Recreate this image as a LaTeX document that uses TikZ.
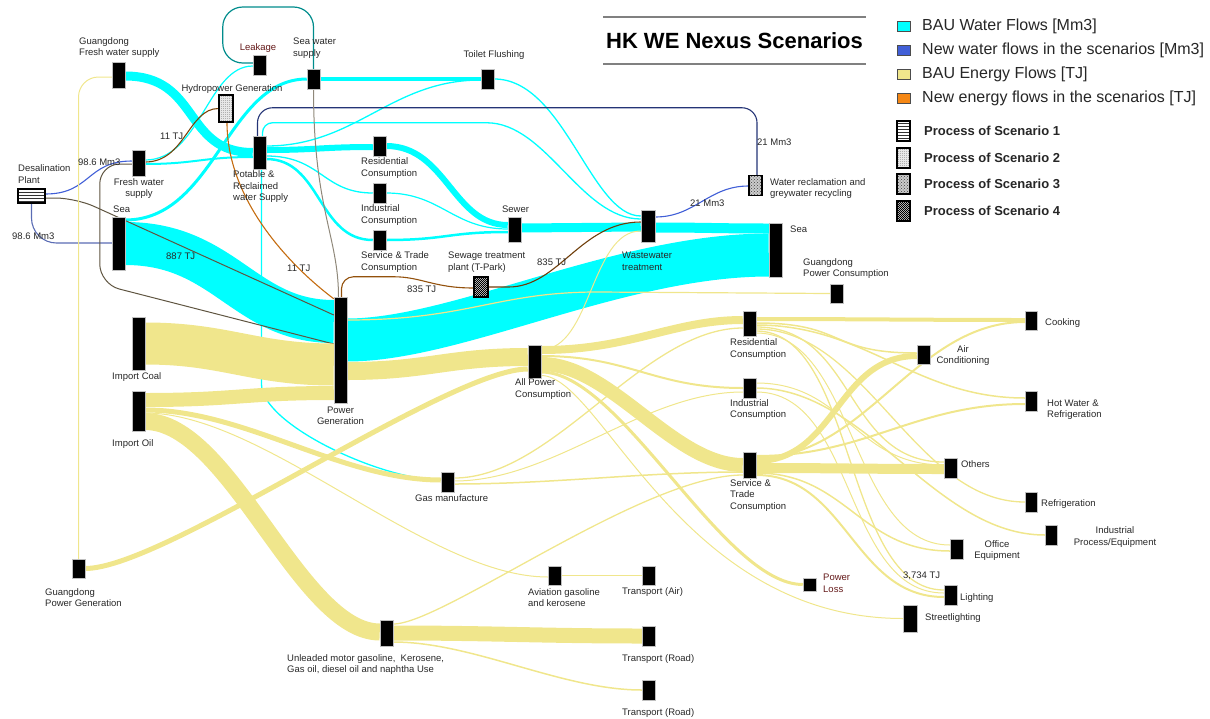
\documentclass[tikz,border=0pt]{standalone}
\usepackage{fontspec}
\setmainfont{Liberation Sans}
\usetikzlibrary{patterns,backgrounds}
\definecolor{watercol}{RGB}{0,255,255}
\definecolor{energycol}{RGB}{240,230,140}
\definecolor{newwater}{RGB}{65,95,215}
\definecolor{newenergy}{RGB}{245,135,20}
\definecolor{darkline}{RGB}{95,85,65}
\definecolor{lblcol}{RGB}{40,40,40}
\definecolor{lblred}{RGB}{100,25,25}
\pgfdeclarepatternformonly{finedots}{\pgfpointorigin}{\pgfqpoint{1.6pt}{1.6pt}}{\pgfqpoint{1.6pt}{1.6pt}}{\pgfpathcircle{\pgfqpoint{0.4pt}{0.4pt}}{0.45pt}\pgfusepath{fill}}
\pgfdeclarepatternformonly{finechecker}{\pgfpointorigin}{\pgfqpoint{2.4pt}{2.4pt}}{\pgfqpoint{2.4pt}{2.4pt}}{\pgfpathrectangle{\pgfpointorigin}{\pgfqpoint{1.2pt}{1.2pt}}\pgfpathrectangle{\pgfqpoint{1.2pt}{1.2pt}}{\pgfqpoint{1.2pt}{1.2pt}}\pgfusepath{fill}}
\begin{document}
\begin{tikzpicture}[x=1pt, y=-1pt,
  proc/.style={fill=black, draw=gray!50, line width=.5pt, inner sep=0, minimum width=13, minimum height=20},
  scen/.style={draw=black, line width=1.1pt, inner sep=0, minimum width=14, minimum height=20, preaction={fill=#1}}, scen/.default=white,
  lbl/.style={font=\fontsize{9.5}{11.5}\selectfont, text=lblcol, inner sep=0, align=left},
  legbox/.style={draw=black!70, line width=.8pt, inner sep=0, minimum width=13, minimum height=10},
  legtxt/.style={anchor=west, inner sep=0, font=\fontsize{16}{18}\selectfont, text=black!85},
  sctxt/.style={anchor=west, inner sep=0, font=\bfseries\fontsize{13}{15}\selectfont, text=black!85},
  wflow/.style={draw=watercol, line width=#1}, wflow/.default=1.2,
  eflow/.style={draw=energycol, line width=#1}, eflow/.default=1.2,
  nwflow/.style={draw=newwater, line width=1.1},
  neflow/.style={draw=newenergy, line width=1.1},
  dflow/.style={draw=darkline, line width=1}]
\useasboundingbox (0,0) rectangle (1210,718);
\node[proc, minimum height=26] (gdfresh) at (118.5,75){};
\node[proc] (leak) at (259.5,65){};
\node[proc] (seasup) at (313.5,79){};
\node[proc] (toilet) at (487.5,79){};
\node[scen=gray!18, minimum height=27, pattern=finedots, pattern color=black!60] (hydro) at (226,108.5){};
\node[proc, minimum height=26] (fresh) at (138.5,163){};
\node[proc, minimum height=33] (potable) at (259.5,152.5){};
\node[proc] (wres) at (379.5,146){};
\node[proc] (wind) at (379.5,193){};
\node[proc] (wser) at (379.5,240){};
\node[proc, minimum height=25] (sewer) at (514.5,229.5){};
\node[scen=gray!40, pattern=finechecker] (stp) at (481,287){};
\node[proc, minimum width=14, minimum height=32] (wwt) at (648,226){};
\node[scen=gray!40, minimum width=13, pattern=crosshatch dots, pattern color=black!75] (wrec) at (755.5,185.5){};
\node[proc, minimum height=54] (seart) at (775.5,250){};
\node[scen, minimum width=27, minimum height=14, pattern=horizontal lines, pattern color=black!80] (desal) at (31.5,196){};
\node[proc, minimum height=53] (sealft) at (118.5,243.5){};
\node[proc, minimum height=106] (pg) at (340.5,350){};
\node[proc, minimum height=53] (coal) at (138.5,343.5){};
\node[proc, minimum height=40] (oil) at (138.5,411){};
\node[proc, minimum height=19] (gdpg) at (78.5,568.5){};
\node[proc, minimum height=19] (gdpc) at (836.5,293.5){};
\node[proc, minimum height=33] (allpc) at (534.5,361.5){};
\node[proc] (gas) at (447.5,482){};
\node[proc, minimum height=25] (eres) at (749.5,323.5){};
\node[proc] (eind) at (749.5,388){};
\node[proc, minimum height=26] (eser) at (749.5,465){};
\node[proc, minimum width=12, minimum height=19] (cook) at (1031,320.5){};
\node[proc, minimum height=19] (aircon) at (923.5,354.5){};
\node[proc, minimum width=12] (hotw) at (1031,401){};
\node[proc] (others) at (950.5,468){};
\node[proc, minimum width=12] (refr) at (1031,502){};
\node[proc, minimum width=12] (indproc) at (1051,535){};
\node[proc] (office) at (956.5,549){};
\node[proc, minimum height=13] (ploss) at (809.5,584.5){};
\node[proc] (light) at (950.5,595){};
\node[proc, minimum width=14, minimum height=27] (street) at (910,618.5){};
\node[proc, minimum height=19] (aviat) at (554.5,575.5){};
\node[proc, minimum height=19] (tair) at (648.5,575.5){};
\node[proc, minimum height=26] (unl) at (386.5,633){};
\node[proc] (troad) at (648.5,636){};
\node[proc] (troad2) at (648.5,690){};
\begin{scope}[on background layer]
\draw[wflow=9] ([yshift=-1]gdfresh.east) .. controls +(75,0) and +(-70,0) .. (potable.west);
\draw[wflow=2] ([yshift=-1]fresh.east) .. controls +(50,0) and +(-50,0) .. ([yshift=-4.5]potable.west);
\draw[wflow] ([yshift=3]fresh.east) .. controls +(55,0) and +(-45,0) .. ([yshift=-1]leak.west);
\draw[wflow=3] ([yshift=23.5]sealft.east) .. controls +(90,0) and +(-80,0) .. (seasup.west);
\draw[wflow=43] (sealft.east) .. controls +(100,0) and +(-90,0) .. ([yshift=28.5]pg.west);
\draw[wflow=4] (seasup.east) -- (toilet.west);
\draw[wflow=1.3] ([yshift=6.5]potable.east) .. controls +(90,0) and +(-90,0) .. ([yshift=-1]toilet.west);
\draw[wflow=1.3] (toilet.east) .. controls +(70,0) and +(-50,0) .. ([yshift=10]wwt.west);
\draw[wflow=1.3, rounded corners=10] ([xshift=3]potable.north) |- ++(214,-13) .. controls +(70,0) and +(-60,0) .. ([yshift=7]wwt.west);
\draw[wflow=6] ([yshift=2.5]potable.east) .. controls +(50,0) and +(-50,0) .. ([yshift=-1]wres.west);
\draw[wflow=1.3] ([yshift=-3.5]potable.east) .. controls +(55,0) and +(-50,0) .. (wind.west);
\draw[wflow=2.5] ([yshift=-6.5]potable.east) .. controls +(55,0) and +(-55,0) .. (wser.west);
\draw[wflow=1.3] ([xshift=2]potable.south) -- ++(0,215) .. controls +(0,40) and +(-60,0) .. ([yshift=2]gas.west);
\draw[wflow=6] (wres.east) .. controls +(60,0) and +(-55,0) .. ([yshift=4.5]sewer.west);
\draw[wflow=1.2] (wind.east) .. controls +(55,0) and +(-55,0) .. ([yshift=0.5]sewer.west);
\draw[wflow=2.5] (wser.east) .. controls +(60,0) and +(-60,0) .. ([yshift=-2.5]sewer.west);
\draw[wflow=9] ([yshift=1.5]sewer.east) -- ([yshift=-1]wwt.west);
\draw[wflow=10] ([yshift=-1.5]wwt.east) .. controls +(50,0) and +(-50,0) .. ([yshift=21.5]seart.west);
\draw[wflow=43] ([yshift=10]pg.east) .. controls +(110,0) and +(-150,0) .. ([yshift=-5]seart.west);
\draw[wflow, draw=watercol!55!black, rounded corners=20] ([yshift=2]leak.west) -- ++(-30,0) -- ++(0,-56) -| (seasup.north);
\draw[nwflow, draw=newwater!55!black, rounded corners=15] ([xshift=-2]potable.north) -- ++(0,-28) -| ([xshift=1.5]wrec.north);
\draw[nwflow] ([yshift=-0.5]wrec.west) .. controls +(-40,0) and +(40,0) .. ([yshift=9]wwt.east);
\draw[nwflow] ([yshift=2]desal.east) .. controls +(45,0) and +(-45,0) .. ([yshift=2]fresh.west);
\draw[nwflow, draw=newwater!60!gray, rounded corners=25] ([yshift=0.5]sealft.west) -| (desal.south);
\draw[dflow, rounded corners=20] ([yshift=-2]desal.east) -- ++(30,0) -- ([yshift=35]pg.west);
\draw[dflow, rounded corners=20] ([yshift=-1]fresh.west) -- ++(-32,0) -- ++(0,120) -- ([yshift=6]pg.west);
\draw[neflow, draw=newenergy!80!black] ([xshift=1]hydro.south) .. controls +(0,80) and +(-40,-30) .. ([yshift=-2]pg.north west);
\draw[neflow, draw=newenergy!50!black] ([yshift=1]fresh.east) .. controls +(40,0) and +(-30,0) .. (hydro.west);
\draw[dflow, draw=darkline!70] (seasup.south) .. controls +(0,120) and +(0,-60) .. ([xshift=-2]pg.north);
\draw[neflow, draw=newenergy!60!black, rounded corners=12] ([xshift=1]pg.north) |- ++(40,-20) .. controls +(40,0) and +(-40,0) .. ([yshift=-1]stp.west);
\draw[neflow, draw=newenergy!45!black] (stp.east) -- ++(20,0) .. controls +(50,0) and +(-60,0) .. ([yshift=4]wwt.west);
\draw[eflow=1] ([yshift=12]allpc.east) .. controls +(50,0) and +(-50,0) .. ([yshift=-5]wwt.west);
\draw[eflow=42] (coal.east) .. controls +(80,0) and +(-80,0) .. ([yshift=-14.5]pg.west);
\draw[eflow=14] ([yshift=11]oil.east) .. controls +(90,0) and +(-90,0) .. ([yshift=-43]pg.west);
\draw[eflow=5] ([yshift=1]oil.east) .. controls +(100,0) and +(-100,0) .. ([yshift=2]gas.west);
\draw[eflow=1] ([yshift=-2]oil.east) .. controls +(120,0) and +(-120,0) .. ([yshift=-1.5]aviat.west);
\draw[eflow=17] ([yshift=-10.5]oil.east) .. controls +(85,0) and +(-80,0) .. ([yshift=1]unl.west);
\draw[eflow=5] (gdpg.east) .. controls +(80,0) and +(-80,0) .. ([yshift=-7.5]allpc.west);
\draw[eflow=18] ([yshift=-21]pg.east) .. controls +(80,0) and +(-80,0) .. ([yshift=4.5]allpc.west);
\draw[eflow=1.2] ([yshift=30]pg.east) .. controls +(120,0) and +(-100,0) .. ++(250,-28) -- (gdpc.west);
\draw[eflow=8] ([yshift=11.5]allpc.east) .. controls +(90,0) and +(-70,0) .. ([yshift=3.5]eres.west);
\draw[eflow=2] ([yshift=5.5]allpc.east) .. controls +(90,0) and +(-90,0) .. (eind.west);
\draw[eflow=14] ([yshift=-2.5]allpc.east) .. controls +(70,0) and +(-70,0) .. (eser.west);
\draw[eflow=3] ([yshift=-10.5]allpc.east) .. controls +(80,0) and +(-80,0) .. (ploss.west);
\draw[eflow=1] ([yshift=-14]allpc.east) .. controls +(60,0) and +(-223,0) .. (street.west);
\draw[eflow=1.3] ([yshift=4]gas.east) .. controls +(100,0) and +(-100,0) .. ([yshift=-4.5]eres.west);
\draw[eflow=1] ([yshift=1]gas.east) .. controls +(100,0) and +(-100,0) .. ([yshift=-4]eind.west);
\draw[eflow=1.5] ([yshift=-2]gas.east) .. controls +(100,0) and +(-100,0) .. ([yshift=-7]eser.west);
\draw[eflow=1.3] ([yshift=9]unl.east) .. controls +(50,0) and +(-100,0) .. ([yshift=-10]eser.west);
\draw[eflow=15] (unl.east) .. controls +(100,0) and +(-100,0) .. (troad.west);
\draw[eflow=1.5] ([yshift=-9]unl.east) .. controls +(80,0) and +(-80,0) .. (troad2.west);
\draw[eflow=1] (aviat.east) -- (tair.west);
\draw[eflow=1, rounded corners=20] ([yshift=-2]gdfresh.west) -| (gdpg.north);
\draw[eflow=4] ([yshift=4.5]eres.east) .. controls +(100,0) and +(-100,0) .. ([yshift=0.5]cook.west);
\draw[eflow=1.5] ([yshift=0.5]eres.east) .. controls +(90,0) and +(-90,0) .. ([yshift=1.5]aircon.west);
\draw[eflow=1.5] ([yshift=-1.5]eres.east) .. controls +(110,0) and +(-110,0) .. ([yshift=3]hotw.west);
\draw[eflow=1.3] ([yshift=-3.5]eres.east) .. controls +(100,0) and +(-100,0) .. ([yshift=6]others.west);
\draw[eflow=1.3] ([yshift=-5.5]eres.east) .. controls +(110,0) and +(-110,0) .. (refr.west);
\draw[eflow=1.3] ([yshift=-7.5]eres.east) .. controls +(100,0) and +(-100,0) .. ([yshift=5]light.west);
\draw[eflow=1] ([yshift=-9.5]eres.east) .. controls +(100,0) and +(-100,0) .. ([yshift=4]office.west);
\draw[eflow=1] ([yshift=5]eind.east) .. controls +(90,0) and +(-90,0) .. ([yshift=3]others.west);
\draw[eflow=1.5] (eind.east) .. controls +(110,0) and +(-110,0) .. (indproc.west);
\draw[eflow=1] ([yshift=-4]eind.east) .. controls +(100,0) and +(-100,0) .. ([yshift=2]light.west);
\draw[eflow=2] ([yshift=9]eser.east) .. controls +(110,0) and +(-110,0) .. ([yshift=-3]hotw.west);
\draw[eflow=2] ([yshift=7]eser.east) .. controls +(110,0) and +(-110,0) .. ([yshift=-1.5]cook.west);
\draw[eflow=6] ([yshift=4]eser.east) .. controls +(80,0) and +(-80,0) .. ([yshift=-1.5]aircon.west);
\draw[eflow=10] ([yshift=-3]eser.east) .. controls +(80,0) and +(-80,0) .. ([yshift=-1]others.west);
\draw[eflow=1.5] ([yshift=-8]eser.east) .. controls +(90,0) and +(-90,0) .. ([yshift=-2]office.west);
\draw[eflow=2] ([yshift=-10]eser.east) .. controls +(90,0) and +(-90,0) .. ([yshift=-2]light.west);
\end{scope}
\node[lbl, anchor=west] (gdfreshlbl) at (79,47.5) {Guangdong\\Fresh water supply};
\node[lbl, text=lblred] (leaklbl) at (258,48) {Leakage};
\node[lbl, anchor=west] (seasuplbl) at (293,48) {Sea water\\supply};
\node[lbl] (toiletlbl) at (494,55) {Toilet Flushing};
\node[lbl] (hydrolbl) at (232,89) {Hydropower Generation};
\node[lbl, align=center] (freshlbl) at (139,188.5) {Fresh water\\supply};
\node[lbl, anchor=west] (potablelbl) at (233,187) {Potable \&\\Reclaimed\\water Supply};
\node[lbl, anchor=west] (desallbl) at (18,174) {Desalination\\Plant};
\node[lbl, anchor=west] (sealftlbl) at (113,209) {Sea};
\node[lbl, anchor=west] (wreslbl) at (361,168) {Residential\\Consumption};
\node[lbl, anchor=west] (windlbl) at (361,215) {Industrial\\Consumption};
\node[lbl, anchor=west] (wserlbl) at (361,262) {Service \& Trade\\Consumption};
\node[lbl] (sewerlbl) at (515.5,209) {Sewer};
\node[lbl, anchor=west] (stplbl) at (448,262) {Sewage treatment\\plant (T-Park)};
\node[lbl, anchor=west] (wwtlbl) at (622,261.5) {Wastewater\\treatment};
\node[lbl, anchor=west] (wreclbl) at (770,188.5) {Water reclamation and\\greywater recycling};
\node[lbl, anchor=west] (seartlbl) at (790,229) {Sea};
\node[lbl, align=center] (pglbl) at (340.5,416) {Power\\Generation};
\node[lbl, anchor=west] (coallbl) at (112,377) {Import Coal};
\node[lbl, anchor=west] (oillbl) at (112,444) {Import Oil};
\node[lbl, anchor=west] (gdpglbl) at (45,597.5) {Guangdong\\Power Generation};
\node[lbl, anchor=west] (gdpclbl) at (803,268.5) {Guangdong\\Power Consumption};
\node[lbl, anchor=west] (allpclbl) at (515,389) {All Power\\Consumption};
\node[lbl, anchor=west] (gaslbl) at (415,498) {Gas manufacture};
\node[lbl, anchor=west] (ereslbl) at (730,349) {Residential\\Consumption};
\node[lbl, anchor=west] (eindlbl) at (730,409.5) {Industrial\\Consumption};
\node[lbl, anchor=west] (eserlbl) at (730,495.5) {Service \&\\Trade\\Consumption};
\node[lbl, anchor=west] (cooklbl) at (1045,323) {Cooking};
\node[lbl, align=center] (airconlbl) at (963,355.5) {Air\\Conditioning};
\node[lbl, anchor=west] (hotwlbl) at (1047,409.5) {Hot Water \&\\Refrigeration};
\node[lbl, anchor=west] (otherslbl) at (961,464) {Others};
\node[lbl, anchor=west] (refrlbl) at (1041,504) {Refrigeration};
\node[lbl, align=center] (indproclbl) at (1115,537) {Industrial\\Process/Equipment};
\node[lbl, align=center] (officelbl) at (997,550.5) {Office\\Equipment};
\node[lbl, anchor=west, text=lblred] (plosslbl) at (823,583.5) {Power\\Loss};
\node[lbl, anchor=west] (lightlbl) at (960,598) {Lighting};
\node[lbl, anchor=west] (streetlbl) at (925,618) {Streetlighting};
\node[lbl, anchor=west] (aviatlbl) at (528,597.5) {Aviation gasoline\\and kerosene};
\node[lbl, anchor=west] (tairlbl) at (622,592) {Transport (Air)};
\node[lbl, anchor=west] (unllbl) at (287,664.5) {Unleaded motor gasoline,~ Kerosene,\\Gas oil, diesel oil and naphtha Use};
\node[lbl, anchor=west] (troadlbl) at (622,659) {Transport (Road)};
\node[lbl, anchor=west] (troad2lbl) at (622,713) {Transport (Road)};
\node[lbl, anchor=west] (desalq1) at (78,162) {98.6 Mm3};
\node[lbl, anchor=west] (desalq2) at (12,236) {98.6 Mm3};
\node[lbl, anchor=west] (hydroq1) at (160,136) {11 TJ};
\node[lbl, anchor=west] (hydroq2) at (287,268) {11 TJ};
\node[lbl, anchor=west] (desalq3) at (166,256) {887 TJ};
\node[lbl, anchor=west] (stpq1) at (407,289) {835 TJ};
\node[lbl, anchor=west] (stpq2) at (537,262) {835 TJ};
\node[lbl, anchor=west] (wrecq1) at (757,142) {21 Mm3};
\node[lbl, anchor=west] (wrecq2) at (690,203) {21 Mm3};
\node[lbl, anchor=west] (lightq) at (903,576) {3,734 TJ};
\node[font=\bfseries\fontsize{22}{26}\selectfont, inner sep=0] (title) at (734.5,41) {HK WE Nexus Scenarios};
\draw[gray, line width=1.5] (603,17) -- (866,17);
\draw[gray, line width=1.5] (603,64) -- (866,64);
\node[legbox, fill=watercol] (leg1) at (903.5,26){};
\node[legbox, fill=newwater] (leg2) at (903.5,50){};
\node[legbox, fill=energycol] (leg3) at (903.5,74){};
\node[legbox, fill=newenergy] (leg4) at (903.5,98){};
\node[legtxt] (legtxt1) at (922,26) {BAU Water Flows [Mm3]};
\node[legtxt] (legtxt2) at (922,50) {New water flows in the scenarios [Mm3]};
\node[legtxt] (legtxt3) at (922,74) {BAU Energy Flows [TJ]};
\node[legtxt] (legtxt4) at (922,98) {New energy flows in the scenarios [TJ]};
\node[scen, minimum width=13, pattern=horizontal lines, pattern color=black!80] (sc1) at (903.5,131){};
\node[scen=gray!18, minimum width=13, pattern=finedots, pattern color=black!60] (sc2) at (903.5,158){};
\node[scen=gray!40, minimum width=13, pattern=crosshatch dots, pattern color=black!75] (sc3) at (903.5,184){};
\node[scen=gray!40, minimum width=13, pattern=finechecker] (sc4) at (903.5,211){};
\node[sctxt] (sctxt1) at (924,131) {Process of Scenario 1};
\node[sctxt] (sctxt2) at (924,158) {Process of Scenario 2};
\node[sctxt] (sctxt3) at (924,184) {Process of Scenario 3};
\node[sctxt] (sctxt4) at (924,211) {Process of Scenario 4};
\end{tikzpicture}
\end{document}
